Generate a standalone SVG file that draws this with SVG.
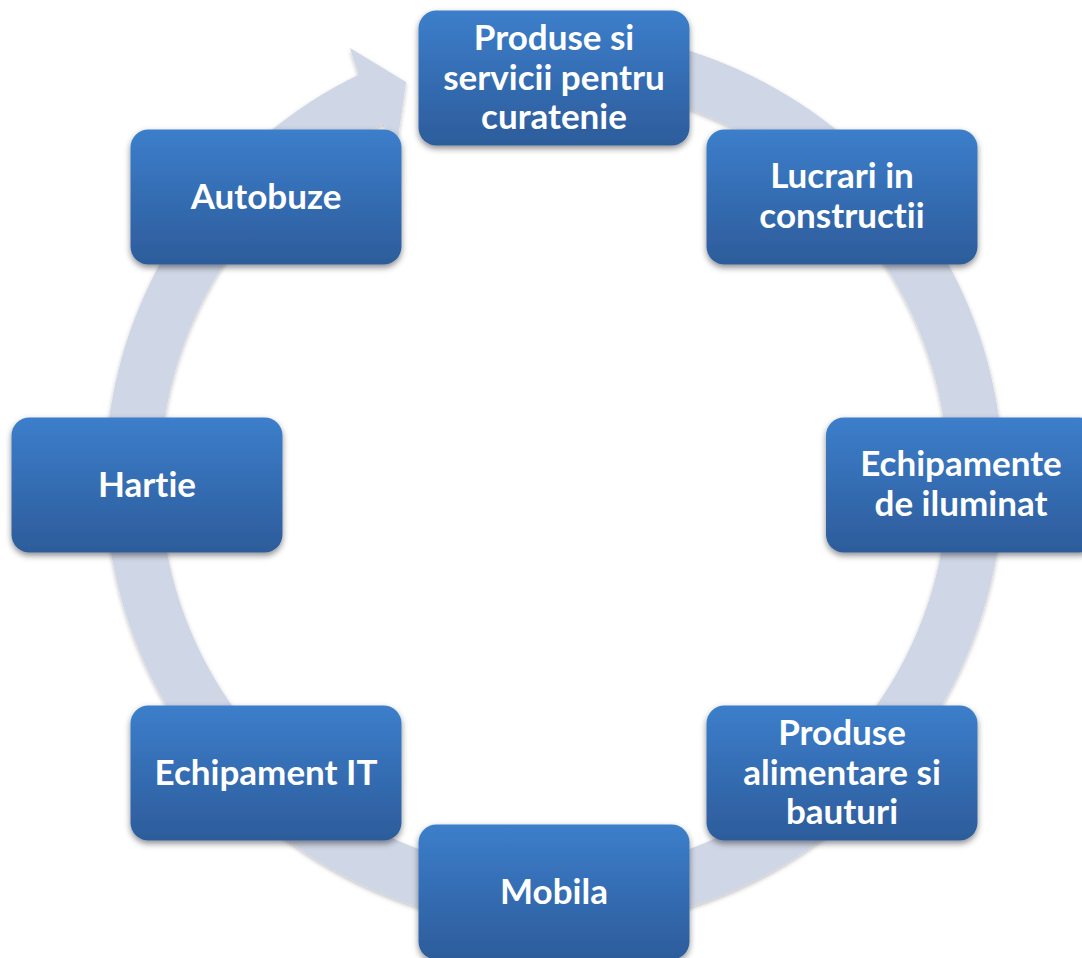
<svg xmlns="http://www.w3.org/2000/svg" width="1082" height="958" viewBox="0 0 1082 958">
<defs>
<linearGradient id="boxGrad" x1="0" y1="0" x2="0" y2="1">
<stop offset="0" stop-color="#3c7ecb"/>
<stop offset="1" stop-color="#2d5c9b"/>
</linearGradient>
<filter id="boxShadow" x="-10%" y="-10%" width="120%" height="130%">
<feDropShadow dx="0" dy="3" stdDeviation="3" flood-color="#000" flood-opacity="0.45"/>
</filter>
<filter id="ringShadow" x="-5%" y="-5%" width="110%" height="110%">
<feDropShadow dx="0" dy="2" stdDeviation="2" flood-color="#000" flood-opacity="0.25"/>
</filter>
</defs>
<style>
.box{fill:url(#boxGrad);filter:url(#boxShadow);}
.lbl{font-family:Lato,"Liberation Sans",sans-serif;font-weight:bold;font-size:35px;fill:#ffffff;text-anchor:middle;font-variant-ligatures:none;font-feature-settings:"liga" 0;}
.ring{fill:#cfd6e5;filter:url(#ringShadow);}
</style>
<rect width="1082" height="958" fill="#ffffff"/>
<g id="connectors">
<path class="ring" d="M569.7,30.3 A449,449 0 1 1 358.6,74.8 L350,48 L406,82 L396.6,147.5 L383.8,123.7 A394,394 0 1 0 567.8,85.2 Z"/>
</g>
<g id="node-curatenie">
<rect class="box" x="418.5" y="10.5" width="271" height="135" rx="18"/>
<text class="lbl" x="554" y="50">Produse si</text>
<text class="lbl" x="554" y="89.5">servicii pentru</text>
<text class="lbl" x="554" y="129">curatenie</text>
</g>
<g id="node-constructii">
<rect class="box" x="706.5" y="129.5" width="271" height="135" rx="18"/>
<text class="lbl" x="842" y="188">Lucrari in</text>
<text class="lbl" x="842" y="228">constructii</text>
</g>
<g id="node-iluminat">
<rect class="box" x="826" y="417.5" width="271" height="135" rx="18"/>
<text class="lbl" x="961" y="476">Echipamente</text>
<text class="lbl" x="961" y="516">de iluminat</text>
</g>
<g id="node-alimentare">
<rect class="box" x="706.5" y="705.5" width="271" height="135" rx="18"/>
<text class="lbl" x="842" y="745">Produse</text>
<text class="lbl" x="842" y="784.5">alimentare si</text>
<text class="lbl" x="842" y="824">bauturi</text>
</g>
<g id="node-mobila">
<rect class="box" x="418.5" y="824.5" width="271" height="135" rx="18"/>
<text class="lbl" x="554" y="904">Mobila</text>
</g>
<g id="node-it">
<rect class="box" x="130.5" y="705.5" width="271" height="135" rx="18"/>
<text class="lbl" x="266" y="785">Echipament IT</text>
</g>
<g id="node-hartie">
<rect class="box" x="11.5" y="417.5" width="271" height="135" rx="18"/>
<text class="lbl" x="147" y="497">Hartie</text>
</g>
<g id="node-autobuze">
<rect class="box" x="130.5" y="129.5" width="271" height="135" rx="18"/>
<text class="lbl" x="266" y="209">Autobuze</text>
</g>
</svg>
